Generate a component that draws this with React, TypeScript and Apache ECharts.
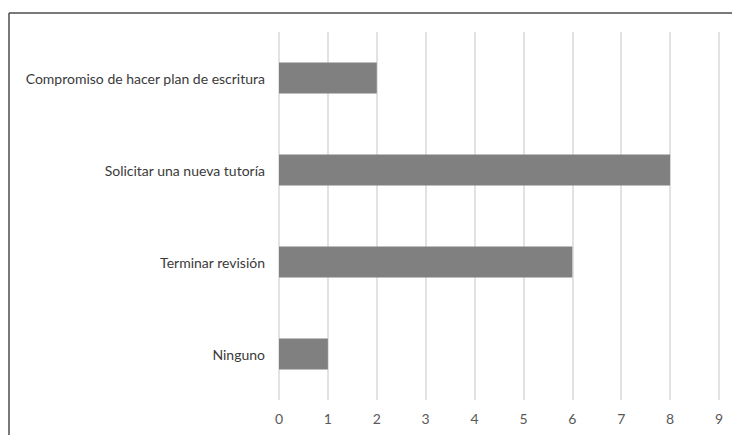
import React, { useEffect, useRef } from "react";
import * as echarts from "echarts";

const categories = [
  "Compromiso de hacer plan de escritura",
  "Solicitar una nueva tutoría",
  "Terminar revisión",
  "Ninguno",
];
const values = [2, 8, 6, 1];
const xTicks = [0, 1, 2, 3, 4, 5, 6, 7, 8, 9];

export default function App() {
  const ref = useRef<HTMLDivElement>(null);
  useEffect(() => {
    if (!ref.current) return;
    const chart = echarts.init(ref.current, null, { renderer: "svg" });
    chart.setOption({
      animation: false,
      backgroundColor: "#ffffff",
      textStyle: { fontFamily: "Lato" },
      grid: { left: 279, right: 13, top: 32, bottom: 35, containLabel: false },
      xAxis: {
        type: "value",
        min: xTicks[0],
        max: xTicks[xTicks.length - 1],
        interval: 1,
        axisLine: { show: false },
        axisTick: { show: false },
        splitLine: { show: true, lineStyle: { color: "#d9d9d9", width: 1.5 } },
        axisLabel: { color: "#595959", fontSize: 14, margin: 11, fontFamily: "Lato" },
      },
      yAxis: {
        type: "category",
        data: categories,
        inverse: true,
        axisLine: { show: false },
        axisTick: { show: false },
        axisLabel: { color: "#3a3a3a", fontSize: 14, margin: 14, fontFamily: "Lato" },
      },
      series: [
        {
          type: "bar",
          data: values,
          barWidth: 31,
          itemStyle: { color: "#808080" },
        },
      ],
      graphic: [
        {
          type: "line",
          shape: { x1: 9, y1: 13, x2: 732, y2: 13 },
          style: { stroke: "#4d4d4d", lineWidth: 1.5 },
        },
        {
          type: "line",
          shape: { x1: 9, y1: 13, x2: 9, y2: 435 },
          style: { stroke: "#4d4d4d", lineWidth: 1.5 },
        },
      ],
    });
    return () => chart.dispose();
  }, []);
  return (
    <div
      ref={ref}
      style={{ position: "fixed", left: 0, top: 0, width: 732, height: 435 }}
    />
  );
}
